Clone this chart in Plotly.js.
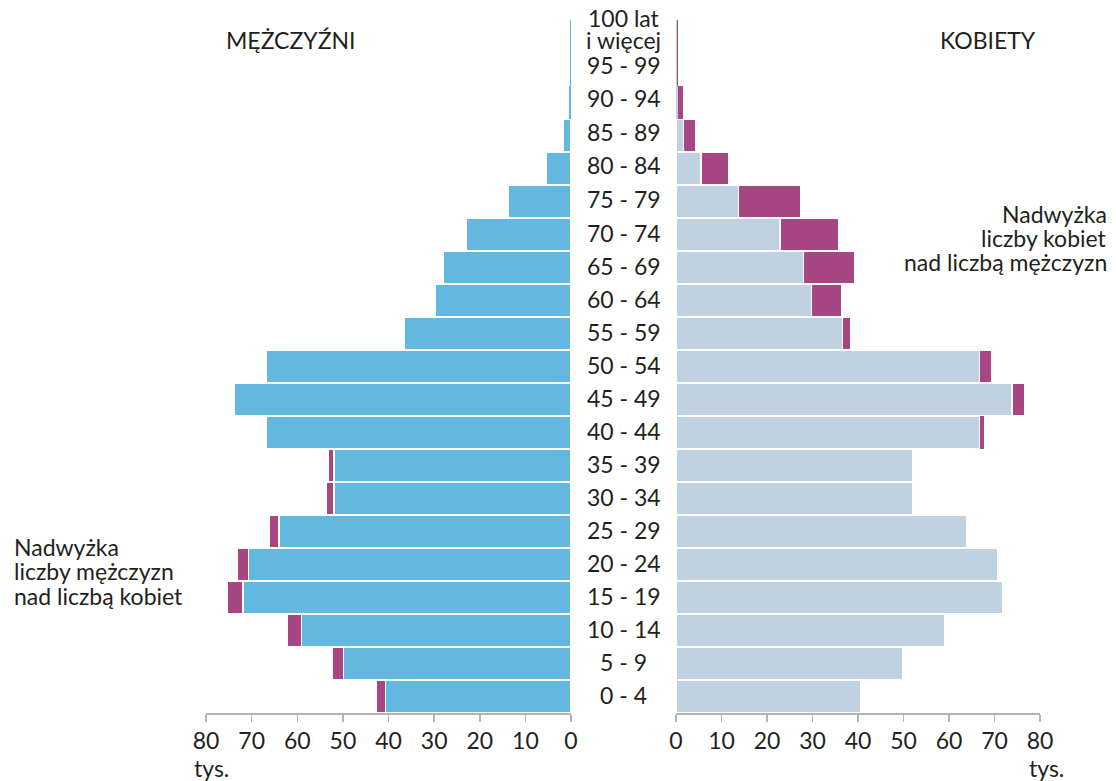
<!DOCTYPE html>
<html>
<head>
<meta charset="utf-8">
<script src="https://cdn.plot.ly/plotly-3.0.1.min.js"></script>
<style>html,body{margin:0;padding:0;background:#fff;}#chart{width:1116px;height:781px;}</style>
</head>
<body>
<div id="chart"></div>
<script>
// Age groups (bottom to top)
const ageGroups = ['0 - 4','5 - 9','10 - 14','15 - 19','20 - 24','25 - 29','30 - 34','35 - 39','40 - 44','45 - 49','50 - 54','55 - 59','60 - 64','65 - 69','70 - 74','75 - 79','80 - 84','85 - 89','90 - 94','95 - 99','100 lat<br>i więcej'];
// Men (thousands)
const men =   [42.7, 52.3, 62.2, 75.3, 73.2, 66.1, 53.7, 53.3, 66.8, 73.9, 66.7, 36.6, 29.8, 28.0, 22.9, 13.7, 5.5, 1.7, 0.5, 0.25, 0.2];
// Women (thousands)
const women = [40.7, 49.9, 59.1, 71.9, 70.7, 64.0, 52.0, 52.0, 67.6, 76.6, 69.5, 38.5, 36.4, 39.2, 35.7, 27.5, 11.5, 4.4, 1.6, 0.5, 0.45];
const xTicks = [0,10,20,30,40,50,60,70,80];

const C_MEN = '#62b8de', C_WOMEN = '#c0d2e2', C_EXCESS = '#a64784';
const FONT = 'Lato, "Open Sans", sans-serif';
const TXT = '#231f20';

const idx = ageGroups.map((_, i) => i);
const common = men.map((m, i) => Math.min(m, women[i]));
const menExcess = men.map((m, i) => Math.max(0, m - women[i]));
const womenExcess = women.map((w, i) => Math.max(0, w - men[i]));
const lw = arr => arr.map(v => v < 1.2 ? 0 : 1.5);

function bar(x, axis, color){
  return {type:'bar', orientation:'h', x:x, y:idx, xaxis:axis, yaxis:'y',
    marker:{color:color, line:{color:'#ffffff', width:lw(x)}}, hoverinfo:'x', showlegend:false};
}
const traces = [
  bar(common, 'x', C_MEN),
  bar(menExcess, 'x', C_EXCESS),
  bar(common, 'x2', C_WOMEN),
  bar(womenExcess, 'x2', C_EXCESS)
];

// pixel -> paper helpers
const L = 206, R = 1040, T = 20, B = 713;
const px = x => (x - L) / (R - L);
const py = y => (B - y) / (B - T);

const annotations = [];
function txt(text, x, y, xanchor, size){
  annotations.push({text:text, xref:'paper', yref:'paper', x:px(x), y:py(y), xanchor:xanchor, yanchor:'middle',
    showarrow:false, font:{family:FONT, size:size||23, color:TXT}});
}
// age labels in the centre
ageGroups.forEach((a, i) => {
  const parts = a.split('<br>');
  const shiftUp = 2 + (i >= 15 ? (i - 14) * 0.6 : 0);
  if (parts.length === 1) {
    annotations.push({text:a, xref:'paper', yref:'y', x:px(623.5), y:i, yshift:shiftUp, xanchor:'center', yanchor:'middle',
      showarrow:false, font:{family:FONT, size:23, color:TXT}});
  } else {
    annotations.push({text:parts[0], xref:'paper', yref:'y', x:px(623.5), y:i, yshift:19, xanchor:'center', yanchor:'middle',
      showarrow:false, font:{family:FONT, size:23, color:TXT}});
    annotations.push({text:parts[1], xref:'paper', yref:'y', x:px(623.5), y:i, yshift:-3, xanchor:'center', yanchor:'middle',
      showarrow:false, font:{family:FONT, size:23, color:TXT}});
  }
});
txt('MĘŻCZYŹNI', 224, 40, 'left');
txt('KOBIETY', 1038, 40, 'right');
txt('Nadwyżka', 1109, 214, 'right');
txt('liczby kobiet', 1109, 238, 'right');
txt('nad liczbą mężczyzn', 1109, 262, 'right');
txt('Nadwyżka', 12, 547, 'left');
txt('liczby mężczyzn', 12, 571, 'left');
txt('nad liczbą kobiet', 12, 596, 'left');
txt('tys.', 192, 768, 'left');
txt('tys.', 1027, 768, 'left');

const xCommon = {
  tickvals:xTicks, ticktext:xTicks.map(String), ticks:'outside', ticklen:7, tickwidth:1.5, tickcolor:'#b3b3b3',
  showline:true, linecolor:'#b3b3b3', linewidth:1.5, showgrid:false, zeroline:false, fixedrange:true,
  tickfont:{family:FONT, size:23, color:TXT}, anchor:'y', ticklabelstandoff:0
};
const layout = {
  width:1116, height:781,
  margin:{l:L, r:1116-R, t:T, b:781-B, pad:0},
  paper_bgcolor:'#ffffff', plot_bgcolor:'#ffffff',
  barmode:'stack', bargap:0,
  xaxis:Object.assign({}, xCommon, {domain:[0, px(571)], range:[80, 0]}),
  xaxis2:Object.assign({}, xCommon, {domain:[px(676), 1], range:[0, 80]}),
  yaxis:{range:[-0.5, 20.5], showticklabels:false, showgrid:false, zeroline:false, showline:false, ticks:'', fixedrange:true},
  annotations:annotations,
  font:{family:FONT, color:TXT}
};
Plotly.newPlot('chart', traces, layout, {displayModeBar:false, staticPlot:true});
</script>
</body>
</html>
